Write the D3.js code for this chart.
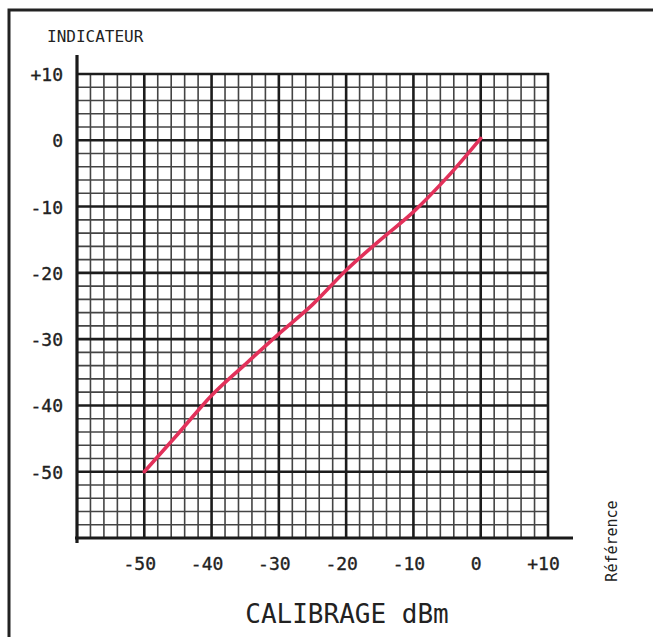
<!DOCTYPE html>
<html>
<head>
<meta charset="utf-8">
<script src="https://cdn.jsdelivr.net/npm/d3@7"></script>
<style>
  html, body { margin: 0; padding: 0; background: #fff; }
  svg { display: block; }
  text { font-family: "DejaVu Sans Mono", monospace; fill: #222; }
</style>
</head>
<body>
<svg id="chart" width="653" height="637"></svg>
<script>
// Calibration curve: reference level (dBm) against meter reading
const calibrage = [-50, -45, -40, -35, -30, -25, -20, -15, -10, -5, 0];
const indicateur = [-50, -44.3, -38.5, -33.8, -29.2, -24.8, -19.6, -15.1, -10.8, -5.6, 0.3];

const xTickLabels = [-50, -40, -30, -20, -10, 0, 10];
const yTickLabels = [10, 0, -10, -20, -30, -40, -50];

const svg = d3.select("#chart");
const W = 653, H = 637;

const x = d3.scaleLinear().domain([-60, 10]).range([77, 548]);
const y = d3.scaleLinear().domain([-60, 10]).range([538, 74]);

const fmt = v => (v > 0 ? "+" : "") + v;

// outer frame (top and left edges)
svg.append("path")
  .attr("d", `M9,${H + 5}V10H${W + 5}`)
  .attr("fill", "none")
  .attr("stroke", "#222")
  .attr("stroke-width", 3);

// graph paper: minor divisions every 2, major every 10
const minor = d3.range(-60, 10.001, 2).filter(v => v % 10 !== 0);
const major = d3.range(-50, 10.001, 10);

const grid = svg.append("g");
grid.selectAll("line.vmin").data(minor).join("line")
  .attr("x1", d => x(d)).attr("x2", d => x(d))
  .attr("y1", y(-60)).attr("y2", y(10))
  .attr("stroke", "#444").attr("stroke-width", 1.6);
grid.selectAll("line.hmin").data(minor).join("line")
  .attr("y1", d => y(d)).attr("y2", d => y(d))
  .attr("x1", x(-60)).attr("x2", x(10))
  .attr("stroke", "#444").attr("stroke-width", 1.6);
grid.selectAll("line.vmaj").data(major).join("line")
  .attr("x1", d => x(d)).attr("x2", d => x(d))
  .attr("y1", y(-60)).attr("y2", y(10) - 1)
  .attr("stroke", "#1c1c1c").attr("stroke-width", 2.6);
grid.selectAll("line.hmaj").data(major).join("line")
  .attr("y1", d => y(d)).attr("y2", d => y(d))
  .attr("x1", x(-60)).attr("x2", x(10) + 1)
  .attr("stroke", "#1c1c1c").attr("stroke-width", 2.6);

// main axes
svg.append("line")
  .attr("x1", x(-60)).attr("x2", x(-60))
  .attr("y1", 55).attr("y2", y(-60) + 5)
  .attr("stroke", "#1a1a1a").attr("stroke-width", 3.2);
svg.append("line")
  .attr("x1", x(-60) - 2).attr("x2", x(10) + 25)
  .attr("y1", y(-60)).attr("y2", y(-60))
  .attr("stroke", "#1a1a1a").attr("stroke-width", 3.2);

// tick labels
const labelStyle = sel => sel
  .style("font-size", "18px")
  .style("fill", "#222")
  .style("stroke", "#222")
  .style("stroke-width", "0.35px")
  .style("font-family", "'DejaVu Sans Mono', monospace");

const xAxis = svg.append("g")
  .attr("transform", `translate(0,${y(-60) + 19})`)
  .call(d3.axisBottom(x).tickValues(xTickLabels).tickFormat(fmt).tickSize(0).tickPadding(0));
xAxis.select(".domain").remove();
xAxis.selectAll("text")
  .attr("dx", -5)
  .attr("dy", "0.71em")
  .attr("y", 0)
  .call(labelStyle);

const yAxis = svg.append("g")
  .attr("transform", `translate(${x(-60) - 14},0)`)
  .call(d3.axisLeft(y).tickValues(yTickLabels).tickFormat(fmt).tickSize(0).tickPadding(0));
yAxis.select(".domain").remove();
yAxis.selectAll("text")
  .attr("dy", "0.36em")
  .call(labelStyle);

// calibration curve
const pts = calibrage.map((c, i) => [c, indicateur[i]]);
svg.append("path")
  .datum(pts)
  .attr("d", d3.line().x(d => x(d[0])).y(d => y(d[1])).curve(d3.curveMonotoneX))
  .attr("fill", "none")
  .attr("stroke", "#e2315a")
  .attr("stroke-width", 3.6)
  .attr("stroke-linecap", "round")
  .attr("stroke-linejoin", "round");

// titles
svg.append("text")
  .attr("x", 47).attr("y", 42)
  .style("font-size", "16px")
  .text("INDICATEUR");

svg.append("text")
  .attr("x", 347).attr("y", 623)
  .attr("text-anchor", "middle")
  .style("font-size", "26px")
  .text("CALIBRAGE dBm");

svg.append("text")
  .attr("transform", "translate(617,541) rotate(-90)")
  .attr("text-anchor", "middle")
  .style("font-size", "15px")
  .text("Référence");
</script>
</body>
</html>
